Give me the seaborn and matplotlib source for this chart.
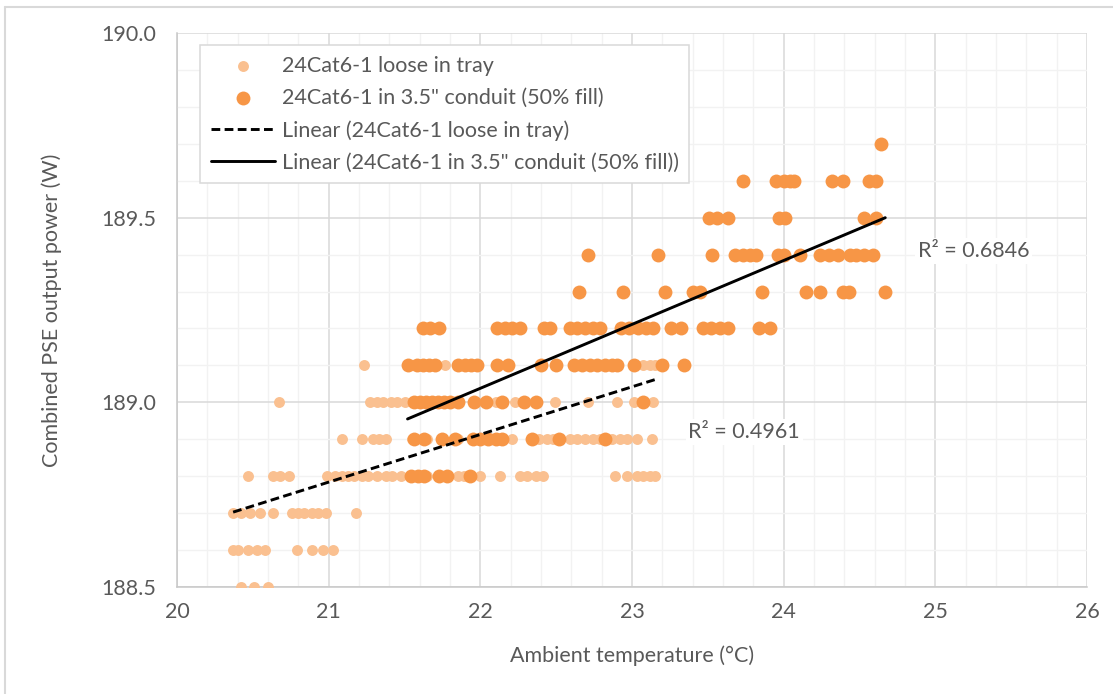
import numpy as np
import pandas as pd
import matplotlib
matplotlib.use("Agg")
import matplotlib.pyplot as plt
import seaborn as sns
from matplotlib.lines import Line2D
from matplotlib.ticker import MultipleLocator, FormatStrFormatter

# =========================
# DATA
# =========================

# loose in tray: ambient temperature (degC) per output power level (W)
tray_levels = [188.5, 188.6, 188.7, 188.8, 188.9, 189.0, 189.1]
tray_temps = [
    [20.42, 20.51, 20.60],
    [20.37, 20.40, 20.47, 20.53, 20.58, 20.79, 20.89, 20.96, 21.03],
    [20.37, 20.42, 20.48, 20.55, 20.63, 20.76, 20.80, 20.84, 20.89, 20.93, 20.98, 21.18],
    [20.47, 20.63, 20.68, 20.74, 20.99, 21.04, 21.09, 21.13, 21.17, 21.22, 21.26, 21.32,
     21.38, 21.42, 21.48, 21.55, 21.65, 21.75, 21.85, 21.89, 22.00, 22.13, 22.26, 22.31,
     22.37, 22.41, 22.89, 22.97, 23.03, 23.07, 23.12, 23.15],
    [21.09, 21.22, 21.29, 21.33, 21.38, 21.55, 21.65, 21.75, 21.85, 21.95, 22.05, 22.12,
     22.21, 22.39, 22.44, 22.48, 22.59, 22.64, 22.69, 22.74, 22.79, 22.87, 22.92, 22.97,
     23.03, 23.13],
    [20.67, 21.27, 21.32, 21.36, 21.41, 21.45, 21.50, 21.62, 21.80, 21.97, 22.10, 22.23,
     22.49, 22.71, 22.90, 23.01, 23.14],
    [21.23, 21.77, 22.40, 23.07, 23.12, 23.15],
]

# in 3.5" conduit (50% fill)
conduit_levels = [188.8, 188.9, 189.0, 189.1, 189.2, 189.3, 189.4, 189.5, 189.6, 189.7]
conduit_temps = [
    [21.54, 21.59, 21.63, 21.73, 21.78, 21.93],
    [21.56, 21.63, 21.75, 21.83, 21.95, 22.00, 22.05, 22.10, 22.14, 22.34, 22.52, 22.82],
    [21.56, 21.60, 21.64, 21.68, 21.72, 21.76, 21.80, 21.85, 21.96, 22.04, 22.14, 22.29,
     22.37, 23.07],
    [21.52, 21.58, 21.62, 21.66, 21.70, 21.85, 21.90, 21.94, 21.98, 22.11, 22.18, 22.40,
     22.50, 22.62, 22.67, 22.72, 22.77, 22.82, 22.87, 22.90, 23.01, 23.20, 23.34],
    [21.62, 21.67, 21.73, 22.11, 22.16, 22.21, 22.26, 22.42, 22.46, 22.59, 22.64, 22.69,
     22.74, 22.79, 22.93, 22.98, 23.04, 23.09, 23.14, 23.26, 23.32, 23.47, 23.52, 23.58,
     23.63, 23.84, 23.91],
    [22.65, 22.94, 23.22, 23.40, 23.45, 23.86, 24.15, 24.24, 24.39, 24.43, 24.67],
    [22.71, 23.17, 23.53, 23.68, 23.73, 23.78, 23.82, 23.96, 24.00, 24.11, 24.24, 24.30,
     24.36, 24.44, 24.48, 24.53, 24.59],
    [23.51, 23.56, 23.63, 23.97, 24.01, 24.53, 24.61],
    [23.73, 23.95, 24.00, 24.04, 24.07, 24.32, 24.39, 24.56, 24.61],
    [24.64],
]

# linear trendlines (slope, intercept) and R^2 labels as shown
tray_fit = (0.129, 186.075)
conduit_fit = (0.173, 185.232)
tray_r2 = "R² = 0.4961"
conduit_r2 = "R² = 0.6846"

tray_label = "24Cat6-1 loose in tray"
conduit_label = "24Cat6-1 in 3.5\" conduit (50% fill)"


def to_frame(levels, temps):
    rows = []
    for level, xs in zip(levels, temps):
        for x in xs:
            rows.append({"temp": x, "power": level})
    return pd.DataFrame(rows)


tray = to_frame(tray_levels, tray_temps)
conduit = to_frame(conduit_levels, conduit_temps)

# =========================
# PLOT
# =========================

sns.set_style("white")
plt.rcParams["font.family"] = ["Lato", "DejaVu Sans"]
text_color = "#595959"
fs = 15.5

fig = plt.figure(figsize=(11.13, 6.94), dpi=100)
ax = fig.add_axes([177 / 1113, 1 - 587 / 694, 910 / 1113, 554 / 694])

sns.scatterplot(data=tray, x="temp", y="power", color="#FAC090", s=62,
                linewidth=0, label=tray_label, ax=ax, zorder=3)
sns.scatterplot(data=conduit, x="temp", y="power", color="#F79646", s=100,
                linewidth=0, label=conduit_label, ax=ax, zorder=4)

for df, fit, style, name in [
    (tray, tray_fit, (0, (3.0, 1.5)), tray_label),
    (conduit, conduit_fit, "-", conduit_label),
]:
    xs = np.array([df["temp"].min(), df["temp"].max()])
    ax.plot(xs, fit[0] * xs + fit[1], color="black", lw=2.1, ls=style,
            label=f"Linear ({name})", zorder=5)

ax.text(23.74, 188.92, tray_r2, ha="center", va="center", fontsize=fs,
        color=text_color, zorder=6,
        bbox=dict(facecolor="white", edgecolor="none", pad=2))
ax.text(25.25, 189.41, conduit_r2, ha="center", va="center", fontsize=fs,
        color=text_color, zorder=6,
        bbox=dict(facecolor="white", edgecolor="none", pad=2))

ax.set_xlim(20, 26)
ax.set_ylim(188.5, 190.0)
ax.xaxis.set_major_locator(MultipleLocator(1))
ax.xaxis.set_minor_locator(MultipleLocator(0.2))
ax.yaxis.set_major_locator(MultipleLocator(0.5))
ax.yaxis.set_minor_locator(MultipleLocator(0.1))
ax.yaxis.set_major_formatter(FormatStrFormatter("%.1f"))

ax.grid(which="major", color="#D9D9D9", lw=1.1, zorder=0)
ax.grid(which="minor", color="#F2F2F2", lw=1.0, zorder=0)
ax.set_axisbelow(True)
ax.tick_params(which="both", length=0)
ax.tick_params(axis="x", pad=11, labelsize=fs, labelcolor=text_color)
ax.tick_params(axis="y", pad=15, labelsize=fs, labelcolor=text_color)

for side in ["top", "right"]:
    ax.spines[side].set_visible(False)
for side in ["left", "bottom"]:
    ax.spines[side].set_color("#C8C8C8")
    ax.spines[side].set_linewidth(1.1)

ax.set_xlabel("Ambient temperature (°C)", fontsize=fs, color=text_color)
ax.set_ylabel("Combined PSE output power (W)", fontsize=fs, color=text_color)
ax.xaxis.set_label_coords(0.5, -0.106)
ax.yaxis.set_label_coords(-0.126, 0.5)

leg = ax.legend(loc="upper left", bbox_to_anchor=(0.025, 0.978), fontsize=fs,
                frameon=True, fancybox=False, edgecolor="#D9D9D9",
                framealpha=1, handlelength=3.0, handletextpad=0.3,
                labelspacing=0.56, borderpad=0.5, borderaxespad=0)
leg.get_frame().set_linewidth(1.1)
for t in leg.get_texts():
    t.set_color(text_color)
leg.set_zorder(10)

# chart area border (only top and left edges are visible)
fig.add_artist(Line2D([5 / 1113, 1.0], [1 - 7 / 694, 1 - 7 / 694],
                      transform=fig.transFigure, color="#D9D9D9", lw=1.5))
fig.add_artist(Line2D([5 / 1113, 5 / 1113], [0.0, 1 - 7 / 694],
                      transform=fig.transFigure, color="#D9D9D9", lw=1.5))

fig.savefig("out.png", dpi=100, facecolor="white")
